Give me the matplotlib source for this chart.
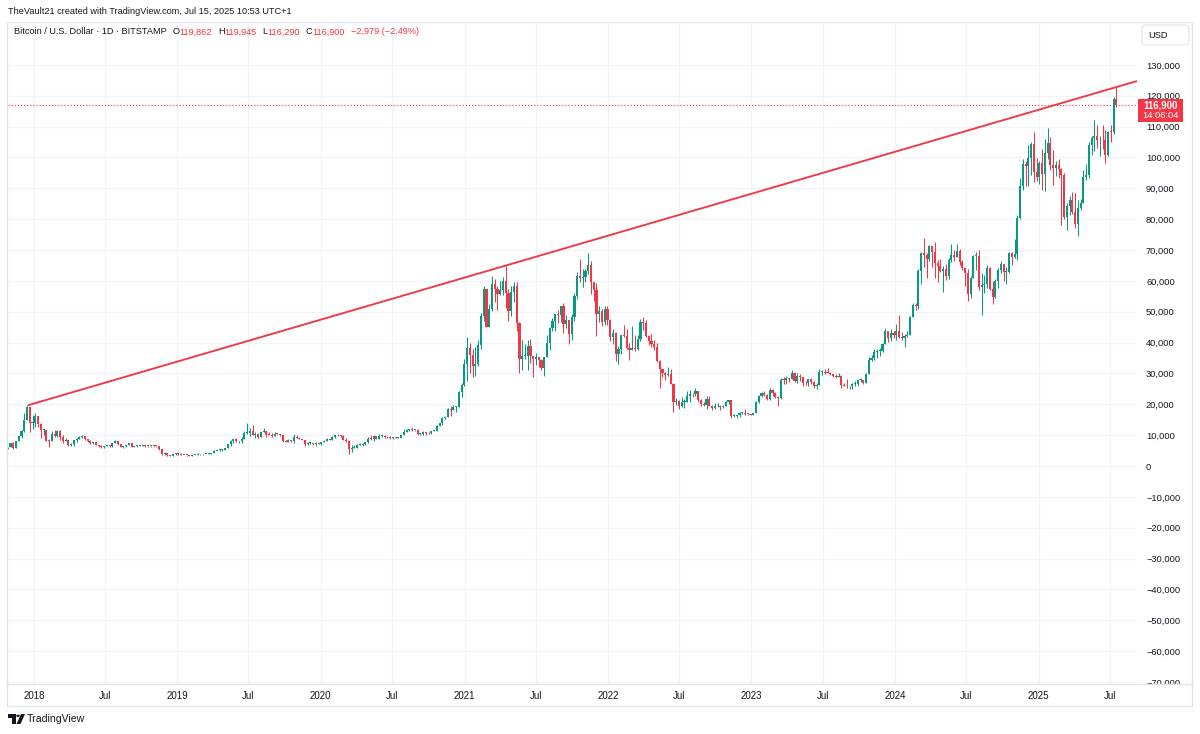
import numpy as np
import pandas as pd
import matplotlib
matplotlib.use("Agg")
import matplotlib.pyplot as plt
import matplotlib.dates as mdates
from matplotlib.patches import Rectangle, FancyBboxPatch, Polygon, Circle
from matplotlib.lines import Line2D

# ---------------- data (weekly candles, thousands of USD) ----------------
first_week = "2017-10-23"
first_open_k = 6.0

close_k = [
    # 2017
    6.15, 7.4, 5.9, 8.0, 9.7, 11.3, 15.0, 19.0, 13.9, 14.1,
    # 2018
    16.2, 13.6, 11.6, 11.8, 8.2, 8.1, 10.4, 9.7, 11.4, 9.5, 8.2, 8.5, 6.9,
    7.0, 8.4, 8.9, 9.3, 9.6, 8.7, 8.2, 7.3, 7.7, 6.8, 6.5, 6.1, 6.4,
    6.7, 6.4, 7.4, 8.2, 7.0, 6.3, 6.5, 6.7, 7.3, 6.3, 6.5, 6.7, 6.6,
    6.6, 6.4, 6.5, 6.4, 6.5, 6.4, 5.6, 4.0, 4.2, 3.6, 3.2, 4.0, 3.9, 4.0,
    # 2019
    3.5, 3.6, 3.5, 3.4, 3.6, 3.7, 3.9, 3.8, 3.9, 4.0, 4.0, 4.1,
    5.0, 5.1, 5.3, 5.3, 5.7, 7.0, 8.0, 8.7, 8.0, 8.0, 8.9, 10.7, 10.8,
    11.3, 10.2, 10.5, 9.5, 10.9, 11.4, 10.2, 10.1, 9.8,
    10.4, 10.3, 10.0, 8.1, 7.9, 8.3, 8.2, 9.5, 9.2, 8.8, 8.5, 7.0, 7.4,
    7.5, 7.1, 7.5, 7.2, 7.8,
    # 2020
    8.2, 8.9, 8.4, 9.4, 9.9, 9.9, 9.7, 8.5, 8.0, 5.4, 5.8, 5.9, 6.8,
    6.9, 7.1, 7.7, 8.9, 8.7, 9.7, 8.9, 9.7, 9.7, 9.4, 9.3, 9.0, 9.1,
    9.3, 9.2, 10.0, 11.1, 11.7, 11.9, 11.7, 11.7, 10.3,
    10.3, 11.1, 10.8, 10.6, 11.4, 11.5, 13.1, 13.8,
    15.5, 16.0, 18.4, 18.2, 19.1, 19.2, 23.9, 26.4, 33.0,
    # 2021
    38.2, 36.0, 32.3, 33.1, 39.2, 48.6, 57.4, 45.2, 51.0, 59.1, 57.4, 55.8, 57.1,
    60.0, 56.2, 50.1, 56.5, 58.2, 46.4, 34.7, 35.7, 35.8, 39.0, 35.5, 34.7, 35.3,
    34.3, 31.8, 35.4, 39.9, 44.6, 47.0, 49.2, 48.8, 51.8,
    46.0, 47.3, 42.8, 48.2, 55.0, 61.5, 61.0, 61.3,
    63.3, 65.0, 59.7, 57.2, 49.4, 50.1, 46.7, 50.8, 47.3,
    # 2022
    41.8, 43.1, 36.3, 37.9, 42.4, 42.2, 38.4, 37.7, 38.4, 37.8, 41.3, 46.8, 46.4,
    42.2, 40.4, 39.4, 38.5, 34.0, 31.3, 30.3, 29.5, 29.9, 26.6, 20.6, 21.0, 19.3,
    20.8, 20.8, 22.6, 23.3, 23.2, 24.3, 21.5, 20.0, 19.9,
    21.8, 19.4, 18.8, 19.3, 19.4, 19.1, 19.5, 20.6, 21.3,
    16.3, 16.3, 16.5, 17.1, 17.1, 16.8, 16.8, 16.6,
    # 2023
    17.1, 20.9, 22.7, 23.7, 23.0, 21.8, 24.6, 23.5, 22.4, 22.2, 28.0, 27.9, 28.4,
    28.3, 30.3, 27.6, 29.2, 28.7, 26.9, 26.8, 28.1, 27.2, 25.9, 26.3, 30.5, 30.6,
    30.3, 30.2, 29.8, 29.3, 29.0, 29.3, 26.1, 26.0, 25.8,
    25.8, 26.5, 26.6, 27.9, 27.9, 26.9, 29.9, 34.5, 35.0,
    37.1, 37.4, 37.4, 39.5, 43.8, 41.4, 43.0, 42.3,
    # 2024
    43.9, 41.7, 41.6, 42.0, 42.6, 48.3, 52.1, 51.7, 63.1, 68.9, 68.4, 67.2, 71.3,
    69.4, 65.7, 64.9, 63.1, 64.0, 61.5, 66.9, 68.5, 67.8, 69.6, 66.2, 64.3, 62.7,
    55.9, 60.8, 68.2, 68.2, 58.1, 58.7, 58.9, 64.2, 57.3,
    54.8, 59.9, 63.6, 65.6, 62.8, 63.0, 69.0, 67.9, 68.7,
    80.4, 90.6, 97.9, 97.2, 99.9, 104.5, 95.2, 93.7, 98.3,
    # 2025
    94.5, 101.3, 104.7, 97.7, 96.5, 97.5, 96.3, 94.2, 80.7, 84.3, 86.1, 82.3, 78.4,
    83.7, 85.1, 93.7, 94.3, 104.1, 106.4, 107.0, 105.5,
    105.8, 105.5, 100.9, 108.3, 108.2, 119.1, 116.9,
]

high_k = [
    # 2017
    6.3, 7.6, 7.9, 8.1, 9.7, 11.8, 17.2, 19.7, 19.2, 16.5,
    # 2018
    17.2, 16.3, 14.0, 12.0, 11.8, 8.9, 11.3, 11.8, 11.7, 11.6, 9.9, 9.1, 8.5,
    7.5, 8.4, 9.0, 9.7, 9.9, 9.6, 8.9, 8.5, 7.8, 7.8, 6.9, 6.8, 6.6,
    6.8, 6.8, 7.6, 8.5, 8.2, 7.2, 6.6, 6.8, 7.4, 7.4, 6.6, 6.8, 6.8,
    6.7, 6.7, 6.6, 6.5, 6.5, 6.5, 6.4, 5.6, 4.4, 4.2, 3.6, 4.2, 4.2, 4.1,
    # 2019
    4.1, 3.7, 3.7, 3.6, 3.7, 3.7, 4.2, 3.9, 3.9, 4.0, 4.1, 4.1,
    5.2, 5.3, 5.4, 5.6, 5.9, 7.2, 8.3, 8.9, 9.1, 8.2, 9.3, 11.2, 13.9,
    12.3, 13.2, 11.0, 10.6, 11.1, 12.3, 11.5, 10.9, 10.6,
    10.9, 10.5, 10.3, 10.1, 8.5, 8.6, 8.4, 10.3, 9.9, 9.5, 8.9, 8.5, 7.8,
    7.7, 7.5, 7.7, 7.6, 7.9,
    # 2020
    8.5, 9.2, 8.9, 9.6, 10.2, 10.5, 10.2, 9.9, 9.2, 8.2, 6.9, 6.9, 7.1,
    7.5, 7.3, 7.7, 9.5, 10.0, 9.9, 9.8, 10.4, 10.4, 9.9, 9.6, 9.8, 9.3,
    9.4, 9.3, 10.0, 12.1, 12.0, 12.1, 12.5, 11.8, 12.1,
    10.8, 11.2, 10.9, 10.9, 11.5, 11.7, 13.3, 14.0,
    15.9, 16.3, 18.8, 19.4, 19.9, 19.4, 24.2, 26.9, 34.8,
    # 2021
    41.9, 40.0, 37.8, 38.5, 40.9, 49.7, 58.3, 57.5, 52.6, 61.7, 60.6, 58.4, 60.1,
    61.4, 64.9, 57.5, 58.4, 59.5, 59.6, 46.6, 40.8, 39.5, 40.9, 41.3, 35.8, 36.6,
    35.1, 34.6, 35.4, 42.4, 45.0, 48.1, 49.3, 50.5, 51.9,
    52.9, 48.8, 47.0, 49.2, 56.0, 62.9, 67.0, 63.7,
    64.0, 69.0, 66.3, 59.5, 59.2, 51.9, 51.0, 52.0, 52.0,
    # 2022
    47.5, 44.4, 43.5, 38.9, 42.6, 45.8, 44.5, 39.8, 45.4, 42.6, 42.3, 47.5, 48.2,
    47.2, 42.4, 42.9, 40.8, 40.0, 34.2, 31.3, 30.6, 32.2, 31.6, 26.9, 21.9, 21.5,
    22.5, 21.6, 24.2, 24.7, 23.6, 25.2, 24.4, 21.8, 20.6,
    22.8, 22.7, 19.7, 20.4, 20.5, 19.9, 19.7, 21.0, 21.5,
    21.0, 17.0, 16.6, 17.4, 17.4, 18.4, 17.0, 16.9,
    # 2023
    17.2, 21.2, 23.1, 23.9, 24.3, 23.3, 25.2, 25.0, 23.9, 22.6, 28.4, 28.9, 29.2,
    28.6, 31.0, 30.5, 30.0, 29.8, 29.0, 27.5, 28.2, 28.4, 27.4, 26.8, 31.4, 31.0,
    31.4, 31.8, 30.4, 29.5, 29.7, 30.2, 29.5, 26.8, 28.1,
    26.0, 26.9, 27.5, 28.0, 28.6, 27.9, 30.3, 35.2, 35.9,
    38.0, 37.9, 38.4, 39.8, 44.7, 43.4, 44.4, 43.8,
    # 2024
    45.9, 49.0, 43.5, 42.8, 43.8, 48.6, 52.8, 52.9, 64.0, 69.2, 73.8, 68.9, 71.7,
    71.3, 72.7, 66.9, 67.2, 64.8, 65.5, 67.4, 71.9, 70.0, 71.9, 70.2, 66.9, 63.3,
    63.8, 61.7, 68.4, 69.4, 70.0, 62.7, 61.8, 65.0, 64.5,
    59.8, 60.7, 64.1, 66.5, 65.6, 64.5, 69.4, 69.5, 73.6,
    81.5, 93.5, 99.6, 98.7, 104.0, 105.0, 108.4, 99.9, 98.9,
    # 2025
    102.7, 106.0, 109.4, 106.5, 102.5, 99.0, 99.5, 96.5, 95.0, 85.3, 87.5, 88.8, 88.5,
    86.1, 86.5, 95.8, 97.9, 105.0, 107.0, 112.0, 110.4,
    106.8, 110.6, 108.9, 108.5, 110.6, 119.5, 123.2,
]

low_k = [
    # 2017
    5.5, 6.0, 5.5, 5.8, 8.0, 9.0, 11.0, 15.0, 11.0, 12.0,
    # 2018
    12.8, 12.8, 9.0, 10.0, 8.0, 6.0, 8.0, 9.3, 9.4, 8.5, 7.3, 8.0, 6.6,
    6.4, 6.6, 7.9, 8.7, 9.1, 8.4, 7.9, 7.2, 7.1, 6.7, 6.1, 5.8, 5.8,
    6.4, 6.1, 6.3, 7.3, 6.9, 6.1, 5.9, 6.2, 6.7, 6.2, 6.2, 6.2, 6.4,
    6.5, 6.2, 6.3, 6.3, 6.2, 6.3, 5.2, 3.6, 3.7, 3.3, 3.2, 3.2, 3.5, 3.7,
    # 2019
    3.5, 3.5, 3.4, 3.4, 3.4, 3.6, 3.6, 3.7, 3.7, 3.8, 3.9, 3.9,
    4.1, 4.9, 5.0, 5.0, 5.2, 5.7, 6.6, 7.5, 7.8, 7.4, 7.6, 8.9, 10.3,
    9.7, 10.0, 9.1, 9.2, 9.4, 10.9, 9.5, 9.9, 9.4,
    9.7, 10.0, 9.7, 7.7, 7.7, 7.8, 7.9, 7.3, 9.0, 8.6, 8.4, 6.5, 6.9,
    7.2, 6.9, 6.4, 7.1, 6.9,
    # 2020
    7.7, 8.1, 8.3, 8.4, 9.2, 9.7, 9.4, 8.4, 7.7, 3.9, 4.4, 5.7, 5.9,
    6.7, 6.5, 6.8, 7.6, 8.5, 8.2, 8.6, 8.7, 9.3, 9.2, 9.2, 8.9, 8.9,
    9.1, 9.0, 9.1, 9.9, 11.0, 11.2, 11.5, 11.2, 9.9,
    9.9, 10.2, 10.2, 10.4, 10.5, 11.2, 11.4, 12.9,
    13.3, 15.1, 15.8, 16.2, 18.0, 17.6, 19.1, 22.4, 26.0,
    # 2021
    27.7, 30.3, 28.8, 29.3, 32.3, 37.9, 47.0, 44.9, 45.0, 50.2, 53.3, 50.4, 55.4,
    55.5, 51.3, 47.0, 48.7, 53.0, 43.8, 30.0, 31.2, 34.8, 31.0, 33.3, 28.8, 32.7,
    32.1, 31.1, 29.3, 35.2, 37.6, 43.7, 43.9, 46.4, 46.6,
    43.0, 44.8, 39.6, 40.8, 47.0, 54.0, 59.7, 58.0,
    59.5, 62.3, 55.6, 53.5, 42.0, 46.8, 45.5, 45.6, 45.7,
    # 2022
    40.6, 39.7, 34.0, 32.9, 36.3, 41.7, 38.0, 34.3, 37.6, 37.2, 37.6, 40.5, 44.2,
    41.9, 39.2, 38.6, 37.6, 33.7, 25.4, 28.7, 28.0, 29.3, 26.6, 17.6, 19.7, 18.6,
    19.0, 18.9, 21.0, 20.7, 22.4, 22.7, 20.8, 19.6, 19.6,
    18.5, 19.4, 18.2, 18.5, 19.1, 18.2, 18.9, 19.3, 20.1,
    15.6, 16.0, 15.5, 16.0, 16.9, 16.5, 16.4, 16.5,
    # 2023
    16.5, 17.1, 20.4, 22.3, 22.6, 21.4, 21.5, 22.8, 21.9, 19.6, 21.8, 26.6, 26.6,
    27.2, 28.2, 27.1, 27.0, 27.7, 25.8, 26.3, 25.9, 26.6, 25.4, 24.8, 26.3, 29.5,
    29.7, 30.0, 29.6, 29.0, 28.6, 28.7, 25.2, 25.8, 25.4,
    24.9, 25.0, 26.0, 26.0, 27.2, 26.6, 26.8, 29.9, 34.1,
    34.5, 35.0, 35.6, 36.9, 39.5, 40.2, 40.5, 41.4,
    # 2024
    40.8, 41.5, 40.7, 38.5, 41.8, 42.3, 48.3, 50.6, 50.9, 59.0, 64.6, 60.8, 66.4,
    64.5, 60.8, 59.6, 62.8, 56.5, 60.2, 60.7, 66.1, 66.6, 68.4, 65.1, 63.4, 58.4,
    53.5, 54.3, 60.8, 63.4, 57.2, 49.0, 56.1, 57.8, 57.1,
    52.6, 54.6, 57.6, 62.7, 59.8, 58.9, 62.4, 65.1, 67.5,
    66.8, 80.0, 89.4, 90.8, 90.6, 94.2, 92.1, 92.5, 91.3,
    # 2025
    89.3, 89.2, 99.5, 96.0, 91.2, 94.1, 93.4, 78.2, 80.0, 76.6, 81.2, 81.6, 77.2,
    74.5, 83.0, 85.1, 92.8, 93.4, 100.9, 102.0, 103.1,
    100.4, 102.7, 98.2, 100.4, 105.1, 107.5, 116.3,
]

x_tick_dates = ["2018-01-01", "2018-07-01", "2019-01-01", "2019-07-01",
                "2020-01-01", "2020-07-01", "2021-01-01", "2021-07-01",
                "2022-01-01", "2022-07-01", "2023-01-01", "2023-07-01",
                "2024-01-01", "2024-07-01", "2025-01-01", "2025-07-01"]
x_tick_labels = ["2018", "Jul", "2019", "Jul", "2020", "Jul", "2021", "Jul",
                 "2022", "Jul", "2023", "Jul", "2024", "Jul", "2025", "Jul"]
y_ticks = list(range(-70000, 130001, 10000))

trend_dates = ["2017-12-17", "2021-04-14"]
trend_prices = [19700, 64900]

last_price = 116900
countdown = "14:06:04"
credit_text = "TheVault21 created with TradingView.com, Jul 15, 2025 10:53 UTC+1"
symbol_text = "Bitcoin / U.S. Dollar \u00b7 1D \u00b7 BITSTAMP"
ohlc_labels = ["O", "H", "L", "C"]
ohlc_values = ["119,862", "119,945", "116,290", "116,900"]
change_text = "\u22122,979 (\u22122.49%)"

# ---------------- style ----------------
UP = "#089981"
DOWN = "#F23645"
TXT = "#131722"
GRID = "#f0f3fa"
BORDER = "#e0e3eb"
FONT = "Liberation Sans"
plt.rcParams["font.family"] = [FONT, "DejaVu Sans"]

W, H = 1200, 734
fig = plt.figure(figsize=(W / 100, H / 100), dpi=100)
fig.patch.set_facecolor("white")


def fx(px):
    return px / W


def fy(py):
    return 1 - py / H


ax = fig.add_axes([fx(8), fy(684), fx(1137) - fx(8), fy(22) - fy(684)])
ax.set_facecolor("white")
for s in ax.spines.values():
    s.set_visible(False)

# candles
dates = pd.date_range(first_week, periods=len(close_k), freq="7D")
xs = mdates.date2num(dates) + 3.5
c = np.array(close_k) * 1000
o = np.array([first_open_k] + close_k[:-1]) * 1000
h = np.maximum(np.array(high_k) * 1000, np.maximum(o, c))
l = np.minimum(np.array(low_k) * 1000, np.minimum(o, c))
cols = np.where(c >= o, UP, DOWN)
ax.vlines(xs, l, h, colors=cols, lw=0.75, zorder=3)
body_bottom = np.minimum(o, c)
body_h = np.maximum(np.abs(c - o), 250)
ax.bar(xs, body_h, bottom=body_bottom, width=5.4, color=cols, linewidth=0, zorder=4)

# limits / ticks
ax.set_xlim(mdates.date2num(pd.Timestamp("2017-10-27")),
            mdates.date2num(pd.Timestamp("2025-09-08")))
ax.set_ylim(-70650, 143900)
ax.set_xticks(mdates.date2num(pd.to_datetime(x_tick_dates)))
ax.set_xticklabels(x_tick_labels)
ax.set_yticks(y_ticks)
ax.set_yticklabels([f"{v:,}".replace("-", "\u2212") for v in y_ticks])
ax.yaxis.tick_right()
ax.tick_params(axis="y", length=0, pad=6.5, labelsize=6.7, labelcolor=TXT)
ax.tick_params(axis="x", length=0, pad=5.2, labelsize=7, labelcolor=TXT)
ax.grid(True, color=GRID, lw=0.9, zorder=0)
ax.set_axisbelow(True)

# price-scale labels are clipped at the time-axis separator
clip_rect = Rectangle((fx(1137), fy(684)), fx(1192) - fx(1137), fy(22) - fy(684),
                      transform=fig.transFigure)
for lbl in ax.get_yticklabels():
    lbl.set_clip_path(clip_rect)

# trend line from first anchor extended to right edge
tx = mdates.date2num(pd.to_datetime(trend_dates))
slope = (trend_prices[1] - trend_prices[0]) / (tx[1] - tx[0])
x_end = ax.get_xlim()[1]
ax.plot([tx[0], x_end], [trend_prices[0], trend_prices[0] + slope * (x_end - tx[0])],
        color=DOWN, lw=1.35, zorder=5, solid_capstyle="butt", clip_on=False)

# last price dotted line
ax.axhline(last_price, color=DOWN, lw=0.8, ls=(0, (1, 1.8)), zorder=2)

# ---------------- frame ----------------
fig.add_artist(Rectangle((fx(7), fy(706)), fx(1192) - fx(7), fy(22) - fy(706),
                         transform=fig.transFigure, fill=False, edgecolor=BORDER, lw=1))
fig.add_artist(Line2D([fx(7), fx(1192)], [fy(684), fy(684)], transform=fig.transFigure,
                      color=BORDER, lw=1))

# ---------------- price label ----------------
fig.canvas.draw()
ypix = ax.transData.transform((0, last_price))[1]
ytop_px = H - ypix - 6.5  # pixel from top
fig.add_artist(Rectangle((fx(1138), fy(ytop_px + 23)), fx(1183) - fx(1138), 23 / H,
                         transform=fig.transFigure, facecolor=DOWN, edgecolor="none"))
fig.text(fx(1160.5), fy(ytop_px + 6.2), f"{last_price:,}", color="white", fontsize=6.9,
         fontweight="bold", ha="center", va="center")
fig.text(fx(1160.5), fy(ytop_px + 16.8), countdown, color="white", fontsize=6.7,
         ha="center", va="center")

# USD box
fig.add_artist(FancyBboxPatch((fx(1142), fy(45)), fx(1189) - fx(1142), 20 / H,
                              boxstyle="round,pad=0,rounding_size=0.004",
                              transform=fig.transFigure, facecolor="white",
                              edgecolor=BORDER, lw=0.8))
fig.text(fx(1148), fy(35), "USD", color=TXT, fontsize=6.7, va="center", ha="left")

# ---------------- header ----------------
fig.text(fx(8), fy(11), credit_text, color=TXT, fontsize=6.6, va="center", ha="left")
prev = fig.text(fx(14), fy(32), symbol_text, color=TXT, fontsize=6.6, va="center", ha="left")
for lab, val in zip(ohlc_labels, ohlc_values):
    t1 = ax.annotate(lab, xy=(1, 0), xycoords=prev, xytext=(4.2, 0), textcoords="offset points",
                     color=TXT, fontsize=6.6, va="bottom", ha="left", annotation_clip=False)
    prev = ax.annotate(val, xy=(1, 0), xycoords=t1, xytext=(0, 0), textcoords="offset points",
                       color=DOWN, fontsize=6.6, va="bottom", ha="left", annotation_clip=False)
ax.annotate(change_text, xy=(1, 0), xycoords=prev, xytext=(4.2, 0), textcoords="offset points",
            color=DOWN, fontsize=6.6, va="bottom", ha="left", annotation_clip=False)

# ---------------- TradingView logo ----------------
tf = fig.transFigure
fig.add_artist(Polygon([(fx(8), fy(714)), (fx(15.5), fy(714)), (fx(15.5), fy(724)),
                        (fx(12), fy(724)), (fx(12), fy(717.5)), (fx(8), fy(717.5))],
                       closed=True, transform=tf, facecolor=TXT, edgecolor="none"))
fig.add_artist(Circle((fx(18), fy(715.8)), 1.8 / W, transform=tf, facecolor=TXT, edgecolor="none"))
fig.add_artist(Polygon([(fx(21), fy(714)), (fx(25), fy(714)), (fx(20.5), fy(724)),
                        (fx(16.5), fy(724))],
                       closed=True, transform=tf, facecolor=TXT, edgecolor="none"))
fig.text(fx(27), fy(719.5), "TradingView", color=TXT, fontsize=7.6, va="center", ha="left")

fig.savefig("out.png", dpi=100, facecolor="white")
